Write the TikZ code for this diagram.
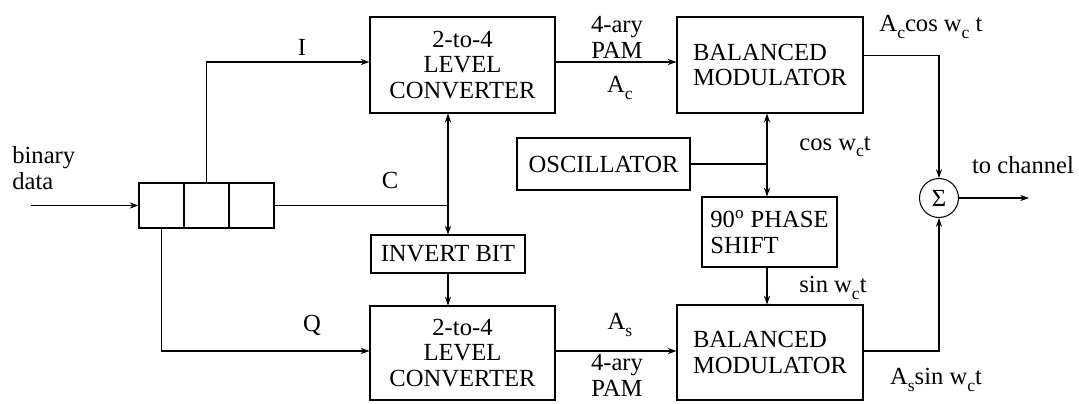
\documentclass[tikz,border=0pt]{standalone}
\usepackage{fontspec}
\setmainfont{Liberation Serif}
\usetikzlibrary{arrows.meta,positioning,calc}
\newcommand{\lowsub}[1]{\raisebox{-0.55ex}{\fontsize{10}{10}\selectfont #1}}

\begin{document}
\begin{tikzpicture}[x=0.02cm,y=-0.02cm,
  every node/.style={font=\fontsize{14}{14.7}\selectfont},
  blk/.style={draw,line width=0.6pt,inner sep=0pt,align=center},
  lbl/.style={inner sep=0pt,align=center},
  sig/.style={line width=0.6pt,-{Stealth[length=5pt,width=3.5pt]}},
  wire/.style={line width=0.6pt}]
  \useasboundingbox (0,0) rectangle (1079,403);
  % blocks
  \node[blk,minimum width=3.7cm,minimum height=1.92cm] (conv1) at (462.5,65) {2-to-4\\LEVEL\\CONVERTER};
  \node[blk,minimum width=3.7cm,minimum height=1.88cm] (conv2) at (462.5,353) {2-to-4\\LEVEL\\CONVERTER};
  \node[blk,align=left,minimum width=3.72cm,minimum height=1.92cm] (mod1) at (770,65) {BALANCED\\MODULATOR};
  \node[blk,align=left,minimum width=3.72cm,minimum height=1.9cm] (mod2) at (770,352.5) {BALANCED\\MODULATOR};
  \node[blk,minimum width=3.46cm,minimum height=1.04cm] (osc) at (603.5,164) {OSCILLATOR};
  \node[blk,align=left,minimum width=2.7cm,minimum height=1.4cm] (shift) at (769.5,232) {90\textsuperscript{o} PHASE\\SHIFT};
  \node[blk,minimum width=3.08cm,minimum height=0.76cm] (inv) at (448,254) {INVERT BIT};
  \foreach \i/\x in {1/161.5,2/206.5,3/251.5}{\node[blk,minimum size=0.9cm] (r\i) at (\x,205.5) {};}
  \node[draw,circle,line width=0.6pt,minimum size=0.78cm,inner sep=0pt] (sum) at (939,198) {Σ};
  % junctions and free ends
  \coordinate (in) at (31,205.5);
  \coordinate (cj) at (448,205.5);
  \coordinate (oj) at (767,164);
  \coordinate (out) at (1029,198);
  \coordinate (ia) at (372,62);
  \coordinate (qa) at (372,351);
  % connectors
  \draw[sig] (in) -- (r1.west);
  \draw[sig] (r2.north) |- (conv1.west |- ia);
  \draw[sig] (r1.south) |- (conv2.west |- qa);
  \draw[wire] (r3.east) -- (cj);
  \draw[sig] (cj) -- (conv1.south -| cj);
  \draw[sig] (cj) -- (inv.north -| cj);
  \draw[sig] (inv.south -| cj) -- (conv2.north -| cj);
  \draw[sig] (conv1.east |- ia) -- (mod1.west |- ia);
  \draw[sig] (conv2.east |- qa) -- (mod2.west |- qa);
  \draw[wire] (osc.east) -- (oj);
  \draw[sig] (oj) -- (mod1.south -| oj);
  \draw[sig] (oj) -- (shift.north -| oj);
  \draw[sig] (shift.south -| oj) -- (mod2.north -| oj);
  \draw[sig] ($(mod1.north east)!0.4!(mod1.south east)$) -| (sum.north);
  \draw[sig] (mod2.east |- qa) -| (sum.south);
  \draw[sig] (sum) -- (out);
  % labels
  \node[lbl,align=left,anchor=west] (bin) at (12,168) {binary\\data};
  \node[lbl] (li) at (302,47) {I};
  \node[lbl] (lc) at (390,180) {C};
  \node[lbl] (lq) at (312,325) {Q};
  \node[lbl] (pam1) at (617,37) {4-ary\\PAM};
  \node[lbl] (ac) at (620,88) {A\lowsub{c}};
  \node[lbl] (as) at (620,325) {A\lowsub{s}};
  \node[lbl] (pam2) at (617,375) {4-ary\\PAM};
  \node[lbl] (cosw) at (835,147) {cos w\lowsub{c}t};
  \node[lbl] (sinw) at (833,288) {sin w\lowsub{c}t};
  \node[lbl] (yc) at (931,27) {A\lowsub{c}cos w\lowsub{c} t};
  \node[lbl] (ys) at (936,380) {A\lowsub{s}sin w\lowsub{c}t};
  \node[lbl] (ch) at (1023,165) {to channel};
\end{tikzpicture}
\end{document}
